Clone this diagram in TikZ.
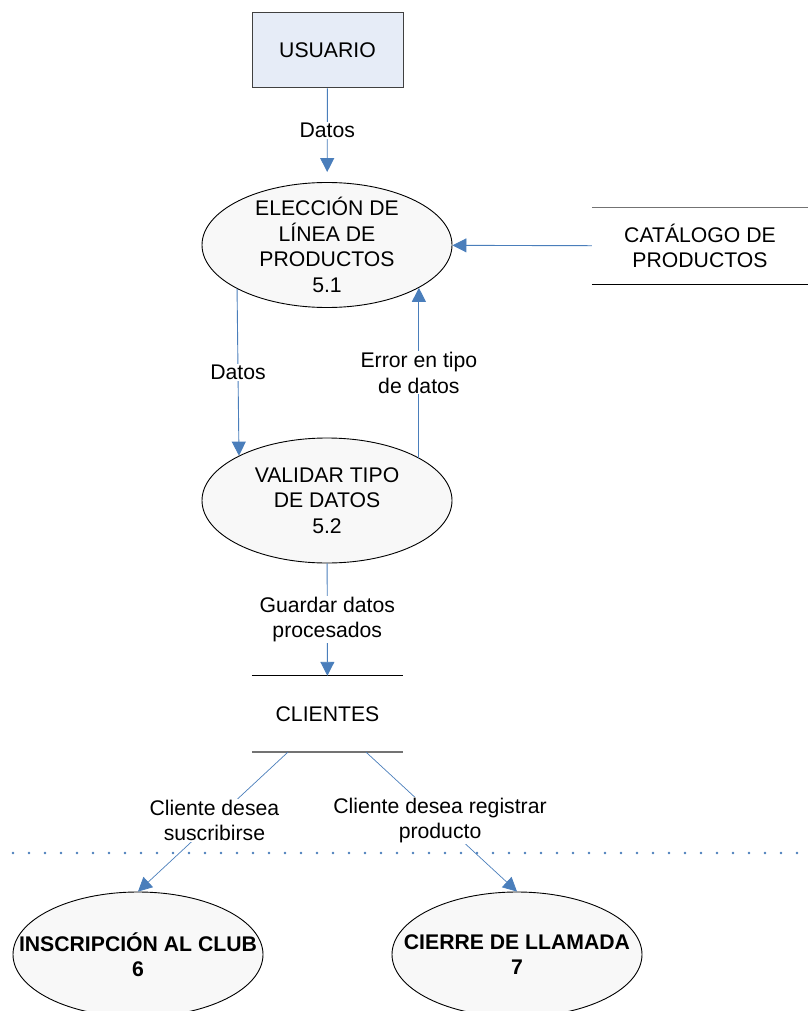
\documentclass[tikz,border=0pt]{standalone}
\usepackage{fontspec}
\setmainfont{Liberation Sans}
\usetikzlibrary{arrows.meta,calc,shapes.geometric}
\definecolor{flowblue}{HTML}{4A7EBB}
\definecolor{boxfill}{HTML}{E6ECF7}
\definecolor{ellfill}{HTML}{F8F8F8}
\begin{document}
\begin{tikzpicture}[x=1pt,y=-1pt,
  every node/.style={font=\fontsize{21.2}{25.5}\selectfont},
  ext/.style={rectangle, draw=black!75, line width=1pt, fill=boxfill, minimum width=151pt, minimum height=75pt, inner sep=0pt},
  proc/.style={ellipse, draw=black, line width=0.9pt, fill=ellfill, minimum width=250pt, minimum height=125pt, inner sep=0pt},
  store/.style={rectangle, minimum height=76pt, inner sep=0pt, align=center},
  lbl/.style={fill=white, inner sep=1pt, align=center},
  flow/.style={draw=flowblue, line width=0.9pt, -{Triangle[width=14pt,length=14pt]}},
  thinflow/.style={draw=flowblue, line width=0.7pt, -{Triangle[width=14pt,length=14pt]}}
]
\useasboundingbox (0,0) rectangle (808,1011);

% nodes
\node[ext] (usr) at (327.5,50.5) {USUARIO};
\node[proc, label={[align=center]center:ELECCIÓN DE\\LÍNEA DE\\PRODUCTOS\\5.1}] (e51) at (327,245) {};
\node[proc, label={[align=center]center:VALIDAR TIPO\\DE DATOS\\5.2}] (e52) at (327,500.5) {};
\node[store, minimum width=216pt] (cat) at (700,246) {CATÁLOGO DE\\PRODUCTOS};
\node[store, minimum width=151pt] (cli) at (327.5,714) {CLIENTES};
\node[proc, label={[align=center,font=\fontsize{21.2}{25.5}\selectfont\bfseries]center:INSCRIPCIÓN AL CLUB\\6}] (ins) at (138,954.5) {};
\node[proc, label={[align=center,font=\fontsize{21.2}{25.5}\selectfont\bfseries]center:CIERRE DE LLAMADA\\7}] (cie) at (517,954.5) {};

% data store lines
\draw[black!55, line width=1.3pt] (cat.north west) -- (cat.north east);
\draw[black, line width=1pt] (cat.south west) -- (cat.south east);
\draw[black, line width=1pt] (cli.north west) -- (cli.north east);
\draw[black!55, line width=2pt] (cli.south west) -- (cli.south east);

% boundary dotted line
\draw[flowblue, line width=2.8pt, line cap=round, dash pattern=on 0pt off 16pt] (13,853) -- (808,853);

% connectors
\draw[flow, shorten >=10pt] (usr) -- node[lbl,pos=0.45]{Datos} (e51);
\draw[flow] (cat) -- (e51);
\draw[flow] (e51.206.9) -- node[lbl]{Datos} (e52.153.6);
\draw[flow] (e52.25.4) -- node[lbl]{Error en tipo\\de datos} (e51.-25.9);
\draw[flow] (e52) -- node[lbl]{Guardar datos\\procesados} (cli);
\draw[thinflow] ($(cli.south west)!0.238!(cli.south east)$) -- node[lbl,pos=0.49]{Cliente desea\\suscribirse} (ins.north);
\draw[thinflow] ($(cli.south west)!0.755!(cli.south east)$) -- node[lbl,pos=0.49]{Cliente desea registrar\\producto} (cie.north);
\end{tikzpicture}
\end{document}
